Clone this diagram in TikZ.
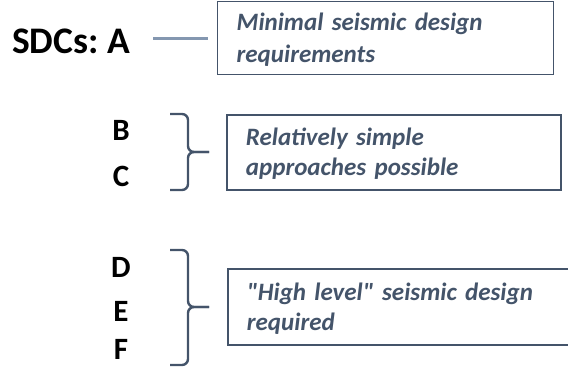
\documentclass[tikz,border=0pt]{standalone}
\usepackage{fontspec}
\setmainfont{Carlito}[Ligatures=TeXOff]
\usetikzlibrary{positioning}
\definecolor{slate}{HTML}{44546A}
\definecolor{paleslate}{HTML}{8497B0}
\frenchspacing

\begin{document}
\begin{tikzpicture}
[
x=1pt,y=-1pt,
sdc/.style={anchor=base,inner sep=0pt,font=\fontsize{31}{36}\selectfont\bfseries},
note/.style 2 args={draw=slate,line width=1.8pt,anchor=north west,align=left,
            inner xsep=19pt,inner ysep=0pt,text=slate,
            font=\fontsize{25}{30}\selectfont\bfseries\itshape,
            execute at begin node={\rule{0pt}{#1}},
            execute at end node={\rule[-#2]{0pt}{#2}}},
brace/.style={draw=slate,line width=2.4pt,rounded corners=6pt},
link/.style={draw=paleslate,line width=3pt},
]
\useasboundingbox (0,0) rectangle (568,367);

%Place the nodes
\node[sdc,anchor=base west,font=\fontsize{37.5}{42}\selectfont\bfseries] (sdcA) at (12,53) {SDCs: A};
\node[sdc] (sdcB) at (121,140) {B};
\node[sdc] (sdcC) at (121,186) {C};
\node[sdc] (sdcD) at (121,277) {D};
\node[sdc] (sdcE) at (121,321) {E};
\node[sdc] (sdcF) at (121,359) {F};
\node[note={28.5pt}{12.5pt},line width=1.3pt,text width=298pt,font=\fontsize{25}{32}\selectfont\bfseries\itshape] (boxA) at (217,1)
      {Minimal seismic design\\requirements};
\node[note={31pt}{14pt},text width=296pt] (boxBC) at (226,114)
      {Relatively simple\\approaches possible};
\node[note={32pt}{14pt},text width=312pt] (boxDEF) at (227,268)
      {"High level" seismic design\\required};
\coordinate (bcTop) at (170,114);
\coordinate (bcBot) at (170,190);
\coordinate (bcTip) at (209,152);
\coordinate (defTop) at (170,250);
\coordinate (defBot) at (170,365);
\coordinate (defTip) at (209,307);

%Draw the connections
\draw[link,shorten <=23pt,shorten >=9pt] (boxA.west -| sdcA.east) -- (boxA.west);
\draw[brace] (bcTop) -- ++(18,0) |- (bcTip);
\draw[brace] (bcBot) -- ++(18,0) |- (bcTip);
\draw[brace] (defTop) -- ++(18,0) |- (defTip);
\draw[brace] (defBot) -- ++(18,0) |- (defTip);
\end{tikzpicture}
\end{document}
